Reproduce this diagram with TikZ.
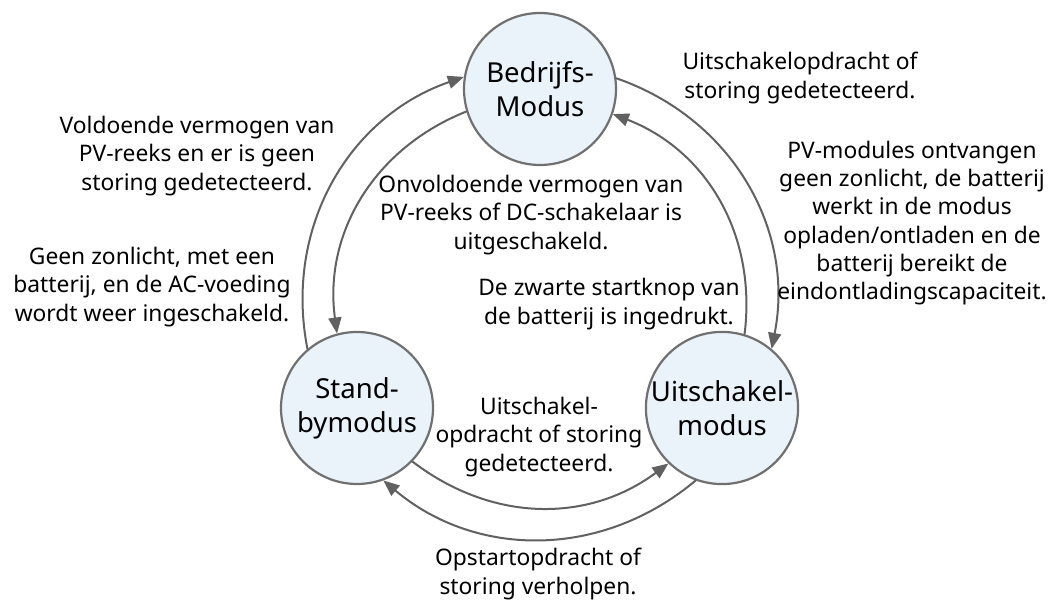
\documentclass[tikz,border=0pt]{standalone}
\usepackage{fontspec}
\setmainfont{Noto Sans}
\usetikzlibrary{arrows.meta}
\definecolor{eaf2fa}{rgb}{0.918,0.949,0.980}
\definecolor{uuuuuu}{rgb}{0.38,0.38,0.38}
\definecolor{tttttt}{rgb}{0.44,0.44,0.44}

\begin{document}
\begin{tikzpicture}[line cap=round,line join=round,>={Triangle[length=16pt,width=13pt]},x=1pt,y=1pt,
	modus/.style={circle,draw=tttttt,line width=2.2pt,fill=eaf2fa,minimum size=152pt,inner sep=0pt,align=center,font=\fontsize{27.5}{34}\selectfont},
	uitleg/.style={align=center,inner sep=0pt,font=\fontsize{22.8}{28.3}\selectfont},
	pijl/.style={->,draw=uuuuuu,line width=2pt}]
	\useasboundingbox (0,0) rectangle (1055,601);
	% de drie modi
	\node[modus] (bm) at (540,512) {Bedrijfs-\\Modus};
	\node[modus] (sb) at (357,193) {Stand-\\bymodus};
	\node[modus] (um) at (722,193) {Uitschakel-\\modus};
	% overgangen
	\draw[pijl] (sb.130) to[bend left=41] (bm.171);
	\draw[pijl] (bm.197) to[bend right=38] (sb.105);
	\draw[pijl] (bm.8) to[bend left=41] (um.50);
	\draw[pijl] (um.73) to[bend right=38] (bm.341);
	\draw[pijl] (sb.-44) to[bend right=37] (um.226);
	\draw[pijl] (um.250) to[bend left=40] (sb.290);
	% teksten
	\node[uitleg] (t1) at (197,445) {Voldoende vermogen van\\PV-reeks en er is geen\\storing gedetecteerd.};
	\node[uitleg] (t2) at (152,314) {Geen zonlicht, met een\\batterij, en de AC-voeding\\wordt weer ingeschakeld.};
	\node[uitleg] (t3) at (531,386) {Onvoldoende vermogen van\\PV-reeks of DC-schakelaar is\\uitgeschakeld.};
	\node[uitleg] (t4) at (609,297) {De zwarte startknop van\\de batterij is ingedrukt.};
	\node[uitleg] (t5) at (800,523) {Uitschakelopdracht of\\storing gedetecteerd.};
	\node[uitleg] (t6) at (912,378) {PV-modules ontvangen\\geen zonlicht, de batterij\\werkt in de modus\\opladen/ontladen en de\\batterij bereikt de\\eindontladingscapaciteit.};
	\node[uitleg] (t7) at (539,164) {Uitschakel-\\opdracht of storing\\gedetecteerd.};
	\node[uitleg] (t8) at (538,27) {Opstartopdracht of\\storing verholpen.};
\end{tikzpicture}
\end{document}
